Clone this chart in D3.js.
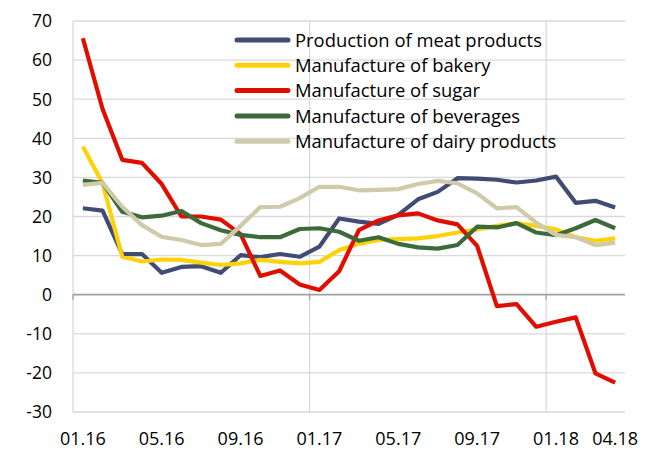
<!DOCTYPE html>
<html><head><meta charset="utf-8">
<script src="https://cdn.jsdelivr.net/npm/d3@7"></script>
<style>body{margin:0;background:#fff}svg{display:block}</style>
</head><body>
<svg id="c" width="653" height="450"></svg>
<script>
const months = ["01.16","02.16","03.16","04.16","05.16","06.16","07.16","08.16","09.16","10.16","11.16","12.16",
"01.17","02.17","03.17","04.17","05.17","06.17","07.17","08.17","09.17","10.17","11.17","12.17",
"01.18","02.18","03.18","04.18"];
const xTickLabels = ["01.16","05.16","09.16","01.17","05.17","09.17","01.18","04.18"];
const yTicks = [-30,-20,-10,0,10,20,30,40,50,60,70];
const seriesNames = ["Production of meat products","Manufacture of bakery","Manufacture of sugar","Manufacture of beverages","Manufacture of dairy products"];
const meat = [22.1,21.5,10.4,10.4,5.6,7.1,7.3,5.6,10.1,9.6,10.4,9.7,12.3,19.5,18.7,18.1,20.4,24.4,26.3,29.8,29.7,29.4,28.7,29.2,30.2,23.5,24,22.3];
const bakery = [37.9,28.5,9.7,8.5,9,8.9,8.2,7.6,8,8.9,8.4,8,8.4,11.4,13,14,14.2,14.4,15,15.9,16.7,17.6,18.3,17.6,16.7,14.7,13.8,14.4];
const sugar = [65.6,47.5,34.5,33.7,28.3,20,20,19.2,15.5,4.8,6.2,2.6,1.2,6,16.5,19,20.3,20.8,19,18,12.5,-2.9,-2.4,-8.2,-6.9,-5.8,-20.1,-22.5];
const beverages = [29.2,28.6,21.2,19.8,20.2,21.4,18.3,16.5,15.3,14.7,14.7,16.8,17,16.1,13.8,14.7,13,12.1,11.8,12.7,17.4,17.2,18.3,15.9,15.2,17,19.1,17];
const dairy = [28.1,28.6,22.5,17.8,14.8,14,12.7,13,17.6,22.4,22.5,24.7,27.6,27.6,26.7,26.8,27,28.3,29.1,28.5,25.9,22.1,22.4,18.4,15.3,14.7,12.7,13.3];
const colors = ["#404c74","#fdd20a","#e10e00","#3c6a3a","#cfcaa9"];
const allSeries = [meat,bakery,sugar,beverages,dairy];

const svg = d3.select("#c");
const FONT = "'Open Sans', 'Liberation Sans', sans-serif";
const L = 73, R = 625, T = 21, B = 412;
const x = d3.scaleBand().domain(months).range([L,R]).paddingInner(0).paddingOuter(0);
const y = d3.scaleLinear().domain([-30,70]).range([B,T]);
const cx = m => x(m) + x.bandwidth()/2;

// horizontal gridlines
svg.append("g").selectAll("line").data(yTicks.filter(v=>v!==0)).join("line")
  .attr("x1",L).attr("x2",R).attr("y1",d=>y(d)).attr("y2",d=>y(d))
  .attr("stroke","#d9d9d9").attr("stroke-width",1.3);
// vertical gridlines at category boundaries every 12 months
const vIdx = [0,12,24];
svg.append("g").selectAll("line").data(vIdx).join("line")
  .attr("x1",d=>x(months[d])).attr("x2",d=>x(months[d])).attr("y1",T).attr("y2",B)
  .attr("stroke","#d9d9d9").attr("stroke-width",1.3);
// zero axis
svg.append("line").attr("x1",L).attr("x2",R).attr("y1",y(0)).attr("y2",y(0))
  .attr("stroke","#a0a0a0").attr("stroke-width",1.7);
svg.append("g").selectAll("line").data(vIdx).join("line")
  .attr("x1",d=>x(months[d])).attr("x2",d=>x(months[d])).attr("y1",y(0)).attr("y2",y(0)+5)
  .attr("stroke","#a0a0a0").attr("stroke-width",1.3);

// y labels
svg.append("g").selectAll("text").data(yTicks).join("text")
  .attr("x",52).attr("y",d=>y(d)).attr("dy","0.36em").attr("text-anchor","end")
  .attr("font-family",FONT).attr("font-size",17.5).attr("fill","#000").text(d=>d);
// x labels
svg.append("g").selectAll("text").data(xTickLabels).join("text")
  .attr("x",d=>cx(d)).attr("y",444.5).attr("text-anchor","middle")
  .attr("font-family",FONT).attr("font-size",18).attr("fill","#000").text(d=>d);

// lines
const line = d3.line().x((d,i)=>cx(months[i])).y(d=>y(d));
allSeries.forEach((s,k)=>{
  svg.append("path").datum(s).attr("d",line).attr("fill","none")
    .attr("stroke",colors[k]).attr("stroke-width",4.2)
    .attr("stroke-linejoin","round").attr("stroke-linecap","butt");
});

// legend
const lg = svg.append("g");
const tmp = lg.append("text").attr("font-family",FONT).attr("font-size",100).text(seriesNames[0]);
const w100 = tmp.node().getComputedTextLength(); tmp.remove();
const lfs = 100*247/w100;
seriesNames.forEach((n,k)=>{
  const yy = 40 + k*25.3;
  lg.append("line").attr("x1",237).attr("x2",288).attr("y1",yy).attr("y2",yy)
    .attr("stroke",colors[k]).attr("stroke-width",5).attr("stroke-linecap","round");
  lg.append("text").attr("x",295).attr("y",yy).attr("dy","0.36em")
    .attr("font-family",FONT).attr("font-size",lfs).attr("fill","#000").text(n);
});
</script>
</body></html>
